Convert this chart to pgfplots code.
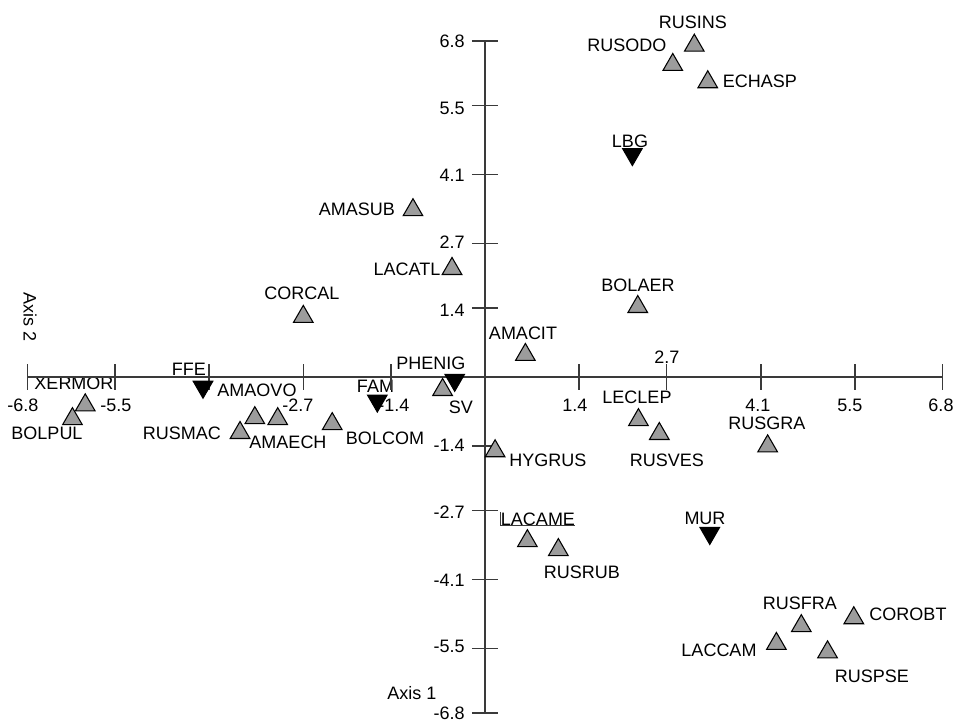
\documentclass[border=0pt]{standalone}
\usepackage{pgfplots}
\pgfplotsset{compat=1.18}
\usepackage{fontspec}
\setmainfont{Liberation Sans}
\definecolor{markgray}{HTML}{9C9C9C}
\definecolor{axgray}{HTML}{3A3A3A}
\begin{document}
\begin{tikzpicture}
% ---- text layer in pixel coordinates (pixel (485,377) = axis origin) ----
\begin{scope}[x=0.75pt,y=-0.75pt,shift={(-363.75pt,282.75pt)},
  every node/.style={font=\fontsize{13.5}{15}\selectfont, inner sep=0pt, anchor=center}]
  % tick labels x
  \node at (23,405) {-6.8};
  \node at (116,405) {-5.5};
  \node at (298,405) {-2.7};
  \node at (394,405) {-1.4};
  \node at (575,405) {1.4};
  \node at (667,357) {2.7};
  \node at (758,405) {4.1};
  \node at (850,405) {5.5};
  \node at (941,405) {6.8};
  % tick labels y
  \node[anchor=east] at (465,41) {6.8};
  \node[anchor=east] at (465,108) {5.5};
  \node[anchor=east] at (465,175) {4.1};
  \node[anchor=east] at (465,242) {2.7};
  \node[anchor=east] at (465,310) {1.4};
  \node[anchor=east] at (465,445) {-1.4};
  \node[anchor=east] at (465,512) {-2.7};
  \node[anchor=east] at (465,580) {-4.1};
  \node[anchor=east] at (465,646) {-5.5};
  \node[anchor=east] at (465,713) {-6.8};
  % axis titles
  \node at (412,693) {Axis 1};
  \node[rotate=-90] at (30,317) {Axis 2};
  % point labels
  \node at (693,22) {RUSINS};
  \node at (627,45.5) {RUSODO};
  \node at (760,81) {ECHASP};
  \node at (630,141) {LBG};
  \node at (357,209) {AMASUB};
  \node at (407,269) {LACATL};
  \node at (302,293) {CORCAL};
  \node at (638,285) {BOLAER};
  \node at (523,333) {AMACIT};
  \node at (431,363) {PHENIG};
  \node at (461,407) {SV};
  \node at (375.5,386.5) {FAM};
  \node at (189,369) {FFE};
  \node at (74,383) {XERMOR};
  \node at (47,433.5) {BOLPUL};
  \node at (257,390) {AMAOVO};
  \node at (182,433) {RUSMAC};
  \node at (288,442) {AMAECH};
  \node at (385,438) {BOLCOM};
  \node at (637,397) {LECLEP};
  \node at (667,460) {RUSVES};
  \node at (767,423) {RUSGRA};
  \node at (548,460) {HYGRUS};
  \node at (538,519) {LACAME};
  \node at (582,572) {RUSRUB};
  \node at (705,518) {MUR};
  \node at (800,603.5) {RUSFRA};
  \node at (908,614.5) {COROBT};
  \node at (719,650) {LACCAM};
  \node at (872,676) {RUSPSE};
  \draw[axgray, line width=0.7pt] (500,512) -- (500,525) -- (575,525);
\end{scope}
\begin{axis}[
  at={(0,0)}, anchor=origin,
  x=50.475pt, y=37.05pt,
  xmin=-6.8, xmax=6.8, ymin=-6.8, ymax=6.8,
  enlargelimits=false,
  axis lines=middle,
  axis line style={-, line width=1.1pt, color=axgray},
  xtick={-6.8,-5.5,-4.1,-2.7,-1.4,1.4,2.7,4.1,5.5,6.8},
  ytick={-6.8,-5.5,-4.1,-2.7,-1.4,1.4,2.7,4.1,5.5,6.8},
  xticklabel=\empty, yticklabel=\empty,
  tick align=center,
  major tick length=19.5pt,
  tick style={line width=1.1pt, color=axgray},
  clip=false,
]
\addplot[only marks, mark=triangle*, mark size=8.5pt,
  mark options={fill=markgray, draw=black, line width=0.8pt}] coordinates {
  (3.11,6.71) (2.79,6.32) (3.31,5.97)
  (-1.07,3.38) (-0.49,2.19) (-2.70,1.22) (2.27,1.42) (0.60,0.45)
  (-0.63,-0.26) (-5.94,-0.57) (-6.13,-0.85) (-3.08,-0.85) (-3.42,-0.83)
  (-3.64,-1.13) (-2.27,-0.95) (0.15,-1.50) (2.28,-0.87) (2.59,-1.15)
  (4.20,-1.40) (0.63,-3.32) (1.09,-3.50) (4.70,-5.04) (5.48,-4.88)
  (4.33,-5.40) (5.09,-5.57)
};
\addplot[only marks, mark=triangle*, mark size=8.5pt,
  mark options={rotate=180, fill=black, draw=black, line width=0.8pt}] coordinates {
  (2.19,4.51) (-4.19,-0.20) (-1.60,-0.48) (-0.45,-0.06) (3.34,-3.16)
};
\end{axis}
\pgfresetboundingbox
\path (-363.75pt,282.75pt) rectangle ++(718.5pt,-540.75pt);
\end{tikzpicture}
\end{document}
